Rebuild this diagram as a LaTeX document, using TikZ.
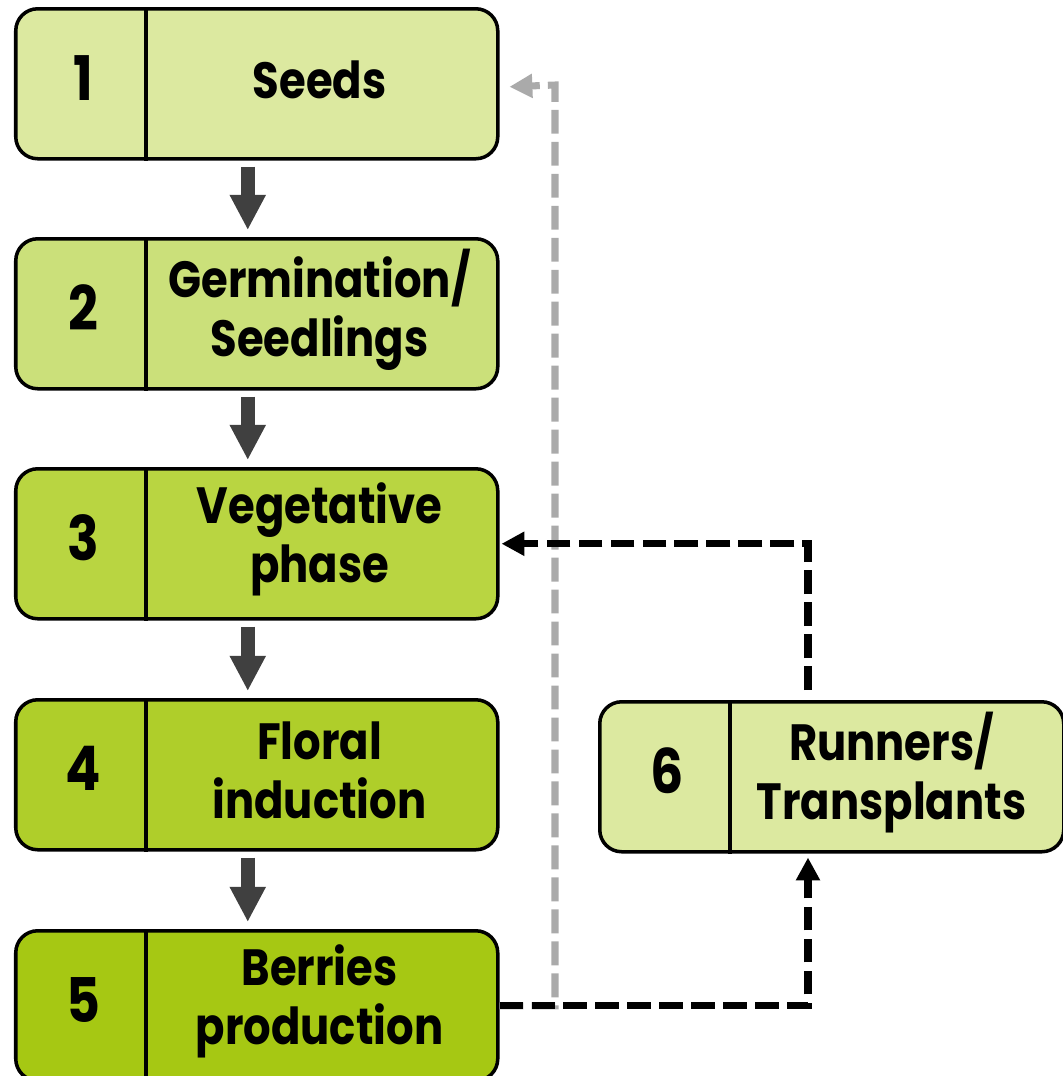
\documentclass[tikz,border=0pt]{standalone}
\usepackage{fontspec}
\setmainfont{Poppins}
\newfontfamily\stagefont{Poppins}[FakeStretch=0.85]
\usetikzlibrary{arrows.meta, calc}

\definecolor{stageA}{HTML}{DCE9A0}
\definecolor{stageB}{HTML}{CBE07A}
\definecolor{stageC}{HTML}{B9D541}
\definecolor{stageD}{HTML}{AFCE2A}
\definecolor{stageE}{HTML}{A6C813}
\definecolor{arrowgray}{HTML}{404040}
\definecolor{loopgray}{HTML}{AAAAAA}

\begin{document}
\begin{tikzpicture}[
    >=Triangle,
    stage/.style={draw, line width=1pt, rounded corners=0.22cm, anchor=north west,
        minimum width=4.82cm, minimum height=1.5cm, inner sep=0pt},
    divider/.style={line width=0.9pt},
    num/.style={font=\stagefont\bfseries\fontsize{17.5}{20}\selectfont},
    lbl/.style={align=center, font=\stagefont\bfseries\fontsize{14.5}{16.8}\selectfont},
    flow/.style={line width=4pt, draw=arrowgray, -{Triangle[width=9.6pt, length=10pt]}},
    fwdloop/.style={line width=2pt, dash pattern=on 6.8pt off 2.3pt,
        -{Triangle[width=6.5pt, length=6.5pt]}},
    backloop/.style={fwdloop, draw=loopgray}
]

% Page frame
\useasboundingbox (0,0) rectangle (10.63,-10.76);

% Stage 1: seeds
\node[stage, fill=stageA] (seeds) at (0.14,-0.07) {};
\draw[divider] ($(seeds.north west)+(1.32,0)$) -- ($(seeds.south west)+(1.32,0)$);
\node[num] (num1) at ($(seeds.west)+(0.69,0.06)$) {1};
\node[lbl] (seedstxt) at ($(seeds.east)+(-1.80,0.04)$) {Seeds};

% Stage 2: germination
\node[stage, fill=stageB] (germ) at (0.14,-2.37) {};
\draw[divider] ($(germ.north west)+(1.32,0)$) -- ($(germ.south west)+(1.32,0)$);
\node[num] (num2) at ($(germ.west)+(0.69,0.06)$) {2};
\node[lbl] (germtxt) at ($(germ.east)+(-1.80,0.04)$) {Germination/\\Seedlings};

% Stage 3: vegetative phase
\node[stage, fill=stageC] (veg) at (0.14,-4.67) {};
\draw[divider] ($(veg.north west)+(1.32,0)$) -- ($(veg.south west)+(1.32,0)$);
\node[num] (num3) at ($(veg.west)+(0.69,0.06)$) {3};
\node[lbl] (vegtxt) at ($(veg.east)+(-1.80,0.04)$) {Vegetative\\phase};

% Stage 4: floral induction
\node[stage, fill=stageD] (floral) at (0.14,-6.98) {};
\draw[divider] ($(floral.north west)+(1.32,0)$) -- ($(floral.south west)+(1.32,0)$);
\node[num] (num4) at ($(floral.west)+(0.69,0.06)$) {4};
\node[lbl] (floraltxt) at ($(floral.east)+(-1.80,0.04)$) {Floral\\induction};

% Stage 5: berries
\node[stage, fill=stageE] (berries) at (0.14,-9.29) {};
\draw[divider] ($(berries.north west)+(1.32,0)$) -- ($(berries.south west)+(1.32,0)$);
\node[num] (num5) at ($(berries.west)+(0.69,0.06)$) {5};
\node[lbl] (berriestxt) at ($(berries.east)+(-1.80,0.04)$) {Berries\\production};

% Stage 6: runners (side branch)
\node[stage, fill=stageA, minimum width=4.64cm] (runners) at (5.98,-7.00) {};
\draw[divider] ($(runners.north west)+(1.32,0)$) -- ($(runners.south west)+(1.32,0)$);
\node[num] (num6) at ($(runners.west)+(0.69,0.06)$) {6};
\node[lbl] (runnerstxt) at ($(runners.east)+(-1.74,0.04)$) {Runners/\\Transplants};

% Main sequence arrows
\draw[flow] ($(seeds.south)+(-0.09,-0.06)$) -- ($(germ.north)+(-0.09,0.07)$);
\draw[flow] ($(germ.south)+(-0.09,-0.06)$) -- ($(veg.north)+(-0.09,0.07)$);
\draw[flow] ($(veg.south)+(-0.09,-0.06)$) -- ($(floral.north)+(-0.09,0.07)$);
\draw[flow] ($(floral.south)+(-0.09,-0.06)$) -- ($(berries.north)+(-0.09,0.07)$);

% Back to seeds (gray dashed)
\coordinate (seedcorner) at (5.55,-0.85);
\draw[backloop] (berries.east) -| (seedcorner) -- ($(seeds.east)+(0.10,-0.03)$);

% Berries -> runners -> vegetative phase
\coordinate (runbottom) at ($(runners.south west)+(2.10,-0.04)$);
\coordinate (runtop) at ($(runners.north west)+(2.10,0.10)$);
\draw[fwdloop] (berries.east) -| (runbottom);
\draw[fwdloop] (runtop) |- ($(veg.east)+(0.02,0)$);

\end{tikzpicture}
\end{document}
